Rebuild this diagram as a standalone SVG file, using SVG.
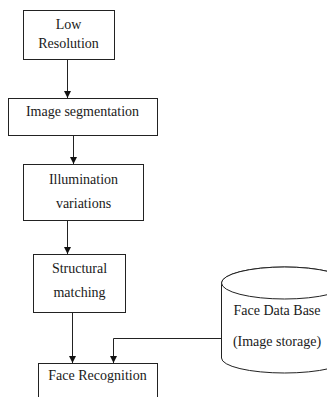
<svg xmlns="http://www.w3.org/2000/svg" width="327" height="397" viewBox="0 0 327 397">
  <style>
    .box { fill: #ffffff; stroke: #222222; stroke-width: 1; }
    .lbl { font-family: "Liberation Serif", "Times New Roman", serif; font-size: 14px; fill: #1a1a1a; text-anchor: middle; }
    .conn { fill: none; stroke: #222222; stroke-width: 1; }
  </style>
  <defs>
    <marker id="arrow" markerUnits="userSpaceOnUse" markerWidth="8" markerHeight="8" refX="7" refY="3.5" orient="auto">
      <path d="M0,0 L7,3.5 L0,7 Z" fill="#111111"/>
    </marker>
  </defs>
  <rect width="327" height="397" fill="#ffffff"/>

  <g id="low-resolution">
    <rect class="box" x="23.5" y="10.5" width="91" height="49"/>
    <text class="lbl" x="68.5" y="29">Low</text>
    <text class="lbl" x="68.5" y="48">Resolution</text>
  </g>

  <g id="image-segmentation">
    <rect class="box" x="8.5" y="98.5" width="149" height="37"/>
    <text class="lbl" x="82.5" y="116">Image segmentation</text>
  </g>

  <g id="illumination-variations">
    <rect class="box" x="23.5" y="164.5" width="120" height="56"/>
    <text class="lbl" x="83.5" y="184">Illumination</text>
    <text class="lbl" x="83.5" y="208">variations</text>
  </g>

  <g id="structural-matching">
    <rect class="box" x="33.5" y="254.5" width="92" height="58"/>
    <text class="lbl" x="79.5" y="273">Structural</text>
    <text class="lbl" x="79.5" y="297">matching</text>
  </g>

  <g id="face-recognition">
    <rect class="box" x="38.5" y="363.5" width="119" height="40"/>
    <text class="lbl" x="97.5" y="380">Face Recognition</text>
  </g>

  <g id="face-database">
    <path class="box" d="M221.5,283 A63,16 0 0 1 347.5,283 L347.5,358 A63,15 0 0 1 221.5,358 Z"/>
    <ellipse class="box" cx="284.5" cy="283" rx="63" ry="16"/>
    <text class="lbl" x="277" y="315">Face Data Base</text>
    <text class="lbl" x="277" y="346">(Image storage)</text>
  </g>

  <g id="connectors">
    <path class="conn" d="M67.5,59.5 L67.5,98" marker-end="url(#arrow)"/>
    <path class="conn" d="M73.5,135.5 L73.5,164" marker-end="url(#arrow)"/>
    <path class="conn" d="M67.5,220.5 L67.5,254" marker-end="url(#arrow)"/>
    <path class="conn" d="M72.5,312.5 L72.5,363" marker-end="url(#arrow)"/>
    <path class="conn" d="M221.5,338.5 L113.5,338.5 L113.5,363" marker-end="url(#arrow)"/>
  </g>
</svg>
